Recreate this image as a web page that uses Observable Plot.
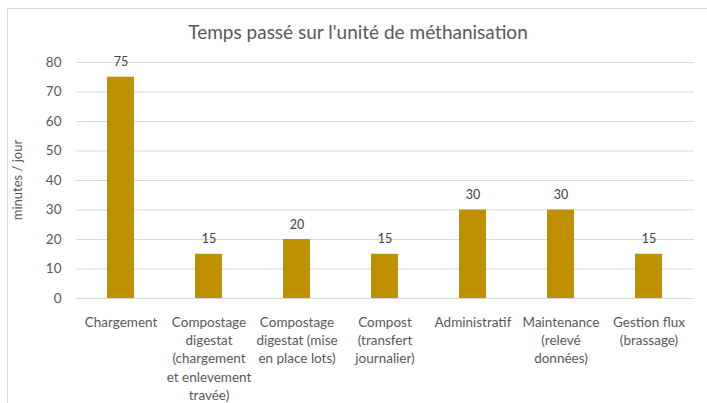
<!DOCTYPE html>
<html>
<head>
<meta charset="utf-8">
<script src="https://cdn.jsdelivr.net/npm/d3@7"></script>
<script src="https://cdn.jsdelivr.net/npm/@observablehq/plot@0.6"></script>
<style>
  body { margin: 0; background: #fff; font-family: Lato, "Open Sans", sans-serif; }
  #wrap { position: relative; width: 707px; height: 403px; overflow: hidden; }
  #frame { position: absolute; left: 7px; top: 8px; width: 720px; height: 420px; border: 1px solid #d9d9d9; box-sizing: border-box; }
  #title { position: absolute; left: 0; width: 716px; top: 20px; text-align: center; font-size: 19px; color: #595959; }
  #ylabel { position: absolute; left: 17px; top: 180px; transform: translate(-50%, -50%) rotate(-90deg); font-size: 13px; color: #595959; white-space: nowrap; }
  #chart { position: absolute; left: 0; top: 0; }
</style>
</head>
<body>
<div id="wrap">
  <div id="frame"></div>
  <div id="chart"></div>
  <div id="title">Temps passé sur l'unité de méthanisation</div>
  <div id="ylabel">minutes / jour</div>
</div>
<script>
const categories = [
  "Chargement",
  "Compostage\ndigestat\n(chargement\net enlevement\ntravée)",
  "Compostage\ndigestat (mise\nen place lots)",
  "Compost\n(transfert\njournalier)",
  "Administratif",
  "Maintenance\n(relevé\ndonnées)",
  "Gestion flux\n(brassage)"
];
const values = [75, 15, 20, 15, 30, 30, 15];
const yTicks = [0, 10, 20, 30, 40, 50, 60, 70, 80];

const data = categories.map((c, i) => ({cat: c, v: values[i]}));

const plot = Plot.plot({
  width: 707,
  height: 403,
  marginLeft: 76,
  marginRight: 13,
  marginTop: 62,
  marginBottom: 105,
  style: {fontFamily: "Lato, 'Open Sans', sans-serif", background: "transparent", overflow: "visible"},
  x: {domain: categories, paddingInner: 0.69, paddingOuter: 0.345, label: null},
  y: {domain: [0, 80], label: null},
  marks: [
    Plot.gridY(yTicks, {stroke: "#d9d9d9", strokeOpacity: 1, strokeWidth: 1}),
    Plot.barY(data, {x: "cat", y: "v", fill: "#bf9000"}),
    Plot.text(data, {x: "cat", y: "v", text: d => String(d.v), dy: -15, fontSize: 12.5, fill: "#404040"}),
    Plot.axisY({ticks: yTicks, tickSize: 0, tickPadding: 15, fontSize: 13.5, color: "#595959", label: null}),
    Plot.axisX({tickSize: 0, tickPadding: 15, fontSize: 13.5, color: "#595959", lineHeight: 1.36, label: null, textAnchor: "middle", lineAnchor: "top"})
  ]
});
document.getElementById("chart").appendChild(plot);
</script>
</body>
</html>
